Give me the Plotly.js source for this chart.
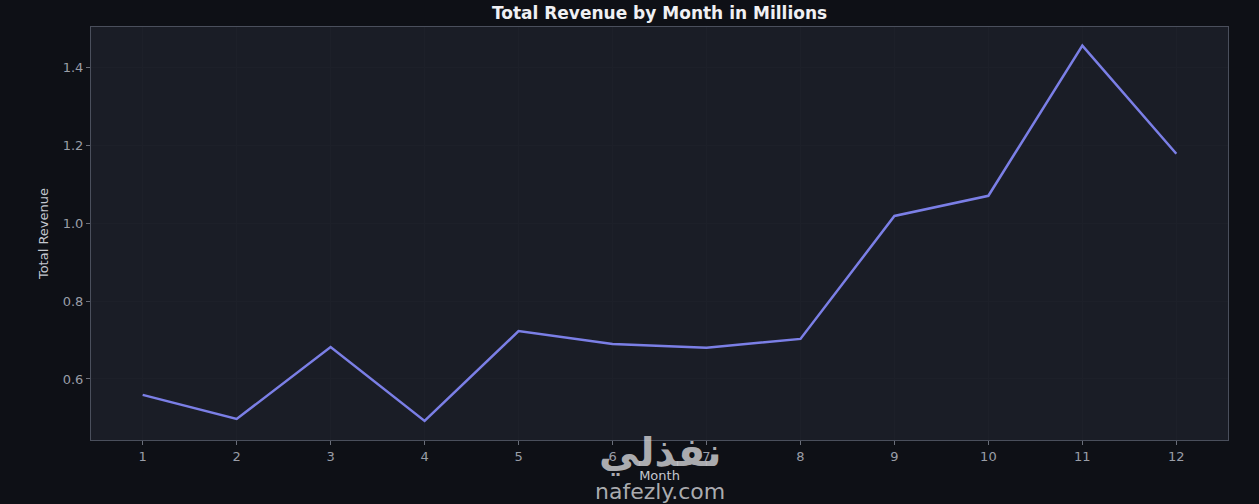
<!DOCTYPE html>
<html><head><meta charset="utf-8">
<script src="https://cdn.plot.ly/plotly-3.0.1.min.js"></script>
<style>html,body{margin:0;padding:0;background:#0e1016;}#c{width:1259px;height:504px;}</style>
</head><body><div id="c"></div>
<script>
const months = [1,2,3,4,5,6,7,8,9,10,11,12];
const revenue = [0.559,0.497,0.682,0.492,0.723,0.690,0.680,0.703,1.019,1.071,1.457,1.179];
const tickLabels = ['1','2','3','4','5','6','7','8','9','10','11','12'];
const titleText = 'Total Revenue by Month in Millions';
const xTitle = 'Month';
const yTitle = 'Total Revenue';

const trace = {x: months, y: revenue, type:'scatter', mode:'lines',
  line:{color:'#7b7fe6', width:2.5}, hoverinfo:'x+y'};
const axisCommon = {showline:true, linecolor:'#4a4f5c', linewidth:1, mirror:true,
  ticks:'outside', ticklen:4, tickcolor:'#6b6f7a', showgrid:true, gridcolor:'#1d2029',
  zeroline:false, tickfont:{family:'DejaVu Sans', size:13, color:'#9a9ea8'}};
const layout = {
  width:1259, height:504,
  paper_bgcolor:'#0e1016', plot_bgcolor:'#1a1d26',
  margin:{l:91, r:31, t:27, b:64},
  title:{text:'<b>'+titleText+'</b>', xref:'paper', x:0.5, xanchor:'center', y:0.975, yanchor:'middle',
    font:{family:'DejaVu Sans', size:17, color:'#f0f0f3'}},
  xaxis:Object.assign({}, axisCommon, {range:[0.45,12.55], tickvals:months, ticktext:tickLabels,
    title:{text:xTitle, standoff:8, font:{family:'DejaVu Sans', size:13, color:'#c4c7cf'}}}),
  yaxis:Object.assign({}, axisCommon, {range:[0.443,1.505], tickvals:[0.6,0.8,1.0,1.2,1.4],
    ticktext:['0.6','0.8','1.0','1.2','1.4'],
    title:{text:yTitle, standoff:11, font:{family:'DejaVu Sans', size:13, color:'#c4c7cf'}}}),
  showlegend:false,
  annotations:[
    {text:'<b>نفذلي</b>', xref:'paper', yref:'paper', x:0.5, y:-0.03, xanchor:'center', yanchor:'middle',
     showarrow:false, font:{family:'DejaVu Sans', size:40, color:'rgba(200,200,204,0.85)'}},
    {text:'nafezly.com', xref:'paper', yref:'paper', x:0.5, y:-0.125, xanchor:'center', yanchor:'middle',
     showarrow:false, font:{family:'DejaVu Sans', size:22, color:'rgba(200,200,204,0.85)'}}
  ]
};
Plotly.newPlot('c', [trace], layout, {displayModeBar:false, staticPlot:true});
</script></body></html>
